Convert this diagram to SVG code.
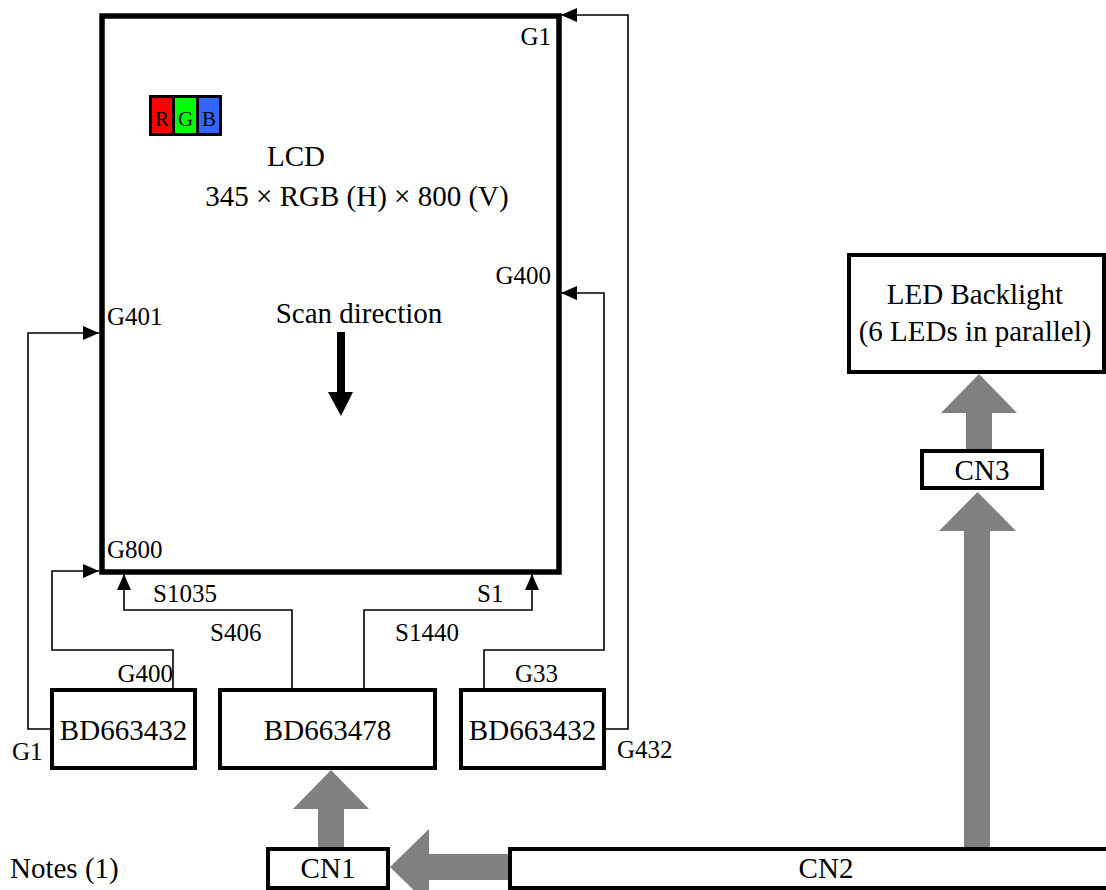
<svg xmlns="http://www.w3.org/2000/svg" width="1106" height="890" viewBox="0 0 1106 890">
<style>
text{font-family:"Liberation Serif","Times New Roman",serif;fill:#000}
.m{font-size:29px}
.s{font-size:25px}
.c{text-anchor:middle}
.r{text-anchor:end}
.box{fill:#fff;stroke:#000;stroke-width:4}
.wire{fill:none;stroke:#000;stroke-width:1.6}
.bus{fill:#808080}
</style>
<defs>
<marker id="ah" markerUnits="userSpaceOnUse" markerWidth="16" markerHeight="14" viewBox="0 0 16 14" refX="16" refY="7" orient="auto">
<path d="M0,0 L16,7 L0,14 Z" fill="#000"/>
</marker>
</defs>
<rect width="1106" height="890" fill="#fff"/>

<g id="lcd">
<rect x="102" y="16" width="457" height="556" fill="#fff" stroke="#000" stroke-width="5.5"/>
<rect x="149" y="95" width="73" height="41" fill="#000"/>
<rect x="152" y="98" width="20" height="35" fill="#ff0000"/>
<rect x="175" y="98" width="21" height="35" fill="#00ff00"/>
<rect x="199" y="98" width="20" height="35" fill="#3366ff"/>
<text x="162" y="126" class="c" font-size="21">R</text>
<text x="185.5" y="126" class="c" font-size="21">G</text>
<text x="209" y="126" class="c" font-size="21">B</text>
<text x="296" y="166" class="m c">LCD</text>
<text x="357" y="206" class="m c">345 × RGB (H) × 800 (V)</text>
<text x="359" y="323" class="m c">Scan direction</text>
<path d="M337,332 H345 V392 H353 L341,416 L328,392 H337 Z" fill="#000"/>
<text x="551" y="45" class="s r">G1</text>
<text x="551" y="284" class="s r">G400</text>
<text x="107" y="325" class="s">G401</text>
<text x="107" y="558" class="s">G800</text>
</g>

<g id="bd_left">
<rect class="box" x="52" y="690" width="143" height="78"/>
<text x="123.5" y="740" class="m c">BD663432</text>
</g>
<g id="bd_mid">
<rect class="box" x="220" y="690" width="215" height="78"/>
<text x="327.5" y="740" class="m c">BD663478</text>
</g>
<g id="bd_right">
<rect class="box" x="461" y="690" width="143" height="78"/>
<text x="532.5" y="740" class="m c">BD663432</text>
</g>

<g id="backlight">
<rect class="box" x="849" y="255" width="255" height="117"/>
<text x="975" y="304" class="m c">LED Backlight</text>
<text x="975" y="341" class="m c">(6 LEDs in parallel)</text>
</g>
<g id="cn3">
<rect class="box" x="922" y="451" width="120" height="37"/>
<text x="982" y="480" class="m c">CN3</text>
</g>
<g id="cn1">
<rect class="box" x="268" y="849" width="120" height="39"/>
<text x="328" y="878" class="m c">CN1</text>
</g>
<g id="cn2">
<rect class="box" x="510" y="849" width="600" height="39"/>
<text x="826" y="878" class="m c">CN2</text>
</g>
<text x="10" y="878" class="m">Notes (1)</text>

<g id="connectors">
<path class="wire" d="M606,729 H628 V15 H561" marker-end="url(#ah)"/>
<path class="wire" d="M484,690 V650 H604 V293 H561" marker-end="url(#ah)"/>
<path class="wire" d="M364,690 V610 H532 V574" marker-end="url(#ah)"/>
<path class="wire" d="M292,690 V610 H124 V574" marker-end="url(#ah)"/>
<path class="wire" d="M173,690 V650 H52 V571 H99" marker-end="url(#ah)"/>
<path class="wire" d="M52,729 H28 V333 H99" marker-end="url(#ah)"/>
<text x="173" y="682" class="s r">G400</text>
<text x="12" y="760" class="s">G1</text>
<text x="153" y="602" class="s">S1035</text>
<text x="210" y="641" class="s">S406</text>
<text x="395" y="641" class="s">S1440</text>
<text x="477" y="602" class="s">S1</text>
<text x="515" y="682" class="s">G33</text>
<text x="617" y="758" class="s">G432</text>
<path class="bus" d="M966,449 V413 H941 L979,374 L1017,413 H992 V449 Z"/>
<path class="bus" d="M964,847 V531 H939 L977.5,492 L1016,531 H990 V847 Z"/>
<path class="bus" d="M318,847 V809 H293 L331,770 L369,809 H344 V847 Z"/>
<path class="bus" d="M508,854 H429 V829 L390,867 L429,905 V880 H508 Z"/>
</g>
</svg>
